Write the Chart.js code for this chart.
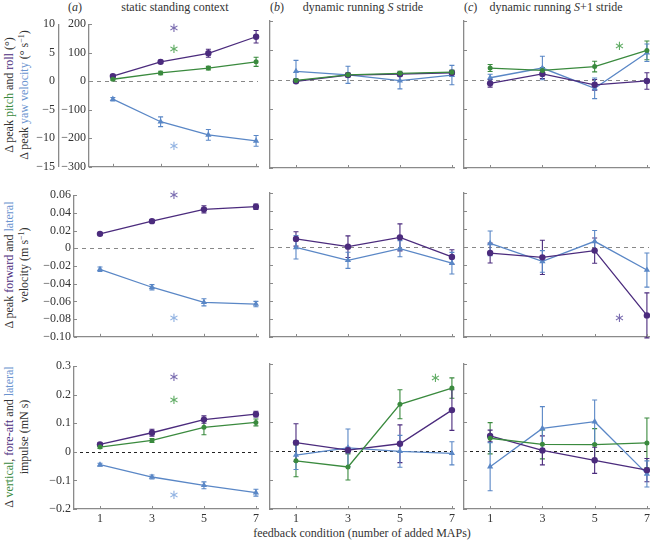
<!DOCTYPE html>
<html>
<head>
<meta charset="utf-8">
<script src="https://cdn.jsdelivr.net/npm/chart.js@4.4.0/dist/chart.umd.min.js"></script>
<style>
  body { margin: 0; width: 650px; height: 541px; overflow: hidden; background: #fff; position: relative;
         font-family: 'Liberation Serif', 'Times New Roman', serif; color: #333; }
  canvas { position: absolute; }
  .t { position: absolute; font-size: 12px; white-space: nowrap; line-height: 1; }
  .c { transform: translateX(-50%); }
  .yl { position: absolute; font-size: 12px; white-space: nowrap; line-height: 1;
        transform: translate(-50%, -50%) rotate(-90deg); }
  sup { font-size: 8px; vertical-align: 4px; line-height: 0; }
  .g { color: #3a8a3e; } .p { color: #4b2b7d; } .b { color: #6a93cf; }
</style>
</head>
<body>
<div class="t" style="left:68px;top:1px">(<i>a</i>)</div>
<div class="t c" style="left:175px;top:1px">static standing context</div>
<div class="t" style="left:270px;top:1px">(<i>b</i>)</div>
<div class="t c" style="left:363px;top:1px">dynamic running <i>S</i> stride</div>
<div class="t" style="left:464px;top:1px">(<i>c</i>)</div>
<div class="t c" style="left:556px;top:1px">dynamic running <i>S</i>+1 stride</div>

<div class="yl" style="left:9px;top:95px">Δ peak <span class="g">pitch</span> and <span class="p">roll</span> (°)</div>
<div class="yl" style="left:24px;top:95px">Δ peak <span class="b">yaw velocity</span> (° s<sup>−1</sup>)</div>
<div class="yl" style="left:9px;top:265px">Δ peak <span class="p">forward</span> and <span class="b">lateral</span></div>
<div class="yl" style="left:24px;top:265px">velocity (m s<sup>−1</sup>)</div>
<div class="yl" style="left:9px;top:437px">Δ <span class="g">vertical</span>, <span class="p">fore-aft</span> and <span class="b">lateral</span></div>
<div class="yl" style="left:24px;top:437px">impulse (mN s)</div>

<div class="t c" style="left:362px;top:527px">feedback condition (number of added MAPs)</div>

<script>
// feedback conditions (number of added MAPs)
const conditions = [1, 3, 5, 7];

// row 1: peak roll / pitch (deg), yaw velocity (deg/s)
const rollStatic = [0.9, 3.4, 4.9, 7.8];
const rollStaticErr = [0.2, 0.25, 0.7, 1.1];
const pitchStatic = [0.35, 1.45, 2.3, 3.4];
const pitchStaticErr = [0.15, 0.3, 0.3, 0.8];
const yawStatic = [-63, -142, -188, -209];
const yawStaticErr = [6, 17, 19, 19];

const rollS = [-0.25, 0.8, 0.95, 1.2];
const rollSErr = [0.25, 0.3, 0.3, 0.35];
const pitchS = [-0.1, 0.85, 1.1, 1.3];
const pitchSErr = [0.25, 0.3, 0.35, 0.35];
const yawS = [29, 17, -3, 16];
const yawSErr = [37, 29, 28, 33];

const rollS1 = [-0.6, 1.0, -0.85, -0.2];
const rollS1Err = [0.65, 0.8, 0.9, 1.4];
const pitchS1 = [2.0, 1.6, 2.25, 5.0];
const pitchS1Err = [0.6, 0.5, 0.9, 1.6];
const yawS1 = [7, 40, -29, 92];
const yawS1Err = [12, 40, 35, 30];

// row 2: peak forward / lateral velocity (m/s)
const fwdStatic = [0.0163, 0.0307, 0.044, 0.047];
const fwdStaticErr = [0.001, 0.0015, 0.004, 0.003];
const latStatic = [-0.0237, -0.044, -0.061, -0.063];
const latStaticErr = [0.0025, 0.003, 0.004, 0.003];

const fwdS = [0.009, 0.0004, 0.0107, -0.011];
const fwdSErr = [0.008, 0.012, 0.015, 0.008];
const latS = [-0.0004, -0.0148, -0.0019, -0.018];
const latSErr = [0.013, 0.009, 0.009, 0.012];

const fwdS1 = [-0.0067, -0.0115, -0.004, -0.076];
const fwdS1Err = [0.011, 0.019, 0.014, 0.025];
const latS1 = [0.004, -0.016, 0.0063, -0.0256];
const latS1Err = [0.0137, 0.012, 0.012, 0.019];

// row 3: vertical / fore-aft / lateral impulse (mN s)
const vertStatic = [0.017, 0.040, 0.086, 0.103];
const vertStaticErr = [0.005, 0.007, 0.026, 0.012];
const foreStatic = [0.026, 0.067, 0.113, 0.132];
const foreStaticErr = [0.005, 0.012, 0.013, 0.01];
const latImpStatic = [-0.045, -0.088, -0.117, -0.143];
const latImpStaticErr = [0.005, 0.007, 0.012, 0.012];

const vertS = [-0.034, -0.055, 0.161, 0.217];
const vertSErr = [0.055, 0.045, 0.05, 0.035];
const foreS = [0.029, 0.003, 0.025, 0.141];
const foreSErr = [0.065, 0.01, 0.065, 0.07];
const latImpS = [-0.014, 0.011, -0.001, -0.008];
const latImpSErr = [0.05, 0.065, 0.055, 0.04];

const vertS1 = [0.044, 0.023, 0.022, 0.028];
const vertS1Err = [0.054, 0.05, 0.055, 0.086];
const foreS1 = [0.052, 0.002, -0.032, -0.066];
const foreS1Err = [0.02, 0.05, 0.045, 0.04];
const latImpS1 = [-0.054, 0.078, 0.101, -0.079];
const latImpS1Err = [0.083, 0.075, 0.075, 0.045];

// significance asterisks: [condition, value, series]
const starsRot = [[3.56, 9.15, 'roll'], [3.56, 5.6, 'pitch'], [3.56, -229, 'yaw']];
const starsRotS1 = [[5.95, 5.6, 'pitch']];
const starsVel = [[3.85, 0.060, 'fwd'], [3.85, -0.080, 'lat']];
const starsVelS1 = [[5.95, -0.080, 'fwd']];
const starsImp = [[3.85, 0.26, 'fore'], [3.85, 0.18, 'vert'], [3.85, -0.154, 'latImp']];
const starsImpS = [[6.37, 0.25, 'vert']];

const PURPLE = '#4b2b7d', GREEN = '#3a8a3e', BLUE = '#5a87c6';
const style = {
  roll:   { color: PURPLE, star: '#7a6cb0', shape: 'circle', r: 3.2, axis: 'y2' },
  pitch:  { color: GREEN,  star: '#62ad66', shape: 'circle', r: 2.5, axis: 'y2' },
  yaw:    { color: BLUE,   star: '#92b3e2', shape: 'triangle', r: 3.6 },
  fwd:    { color: PURPLE, star: '#7a6cb0', shape: 'circle', r: 3.2 },
  lat:    { color: BLUE,   star: '#92b3e2', shape: 'triangle', r: 3.6 },
  fore:   { color: PURPLE, star: '#7a6cb0', shape: 'circle', r: 3.2 },
  vert:   { color: GREEN,  star: '#62ad66', shape: 'circle', r: 2.5 },
  latImp: { color: BLUE,   star: '#92b3e2', shape: 'triangle', r: 3.6 }
};

Chart.defaults.font.family = "'Liberation Serif', 'Times New Roman', serif";
Chart.defaults.font.size = 12;
Chart.defaults.color = '#333';

const AXIS = '#8a8a8a';

const fmt = (v, d) => Math.abs(v) < 1e-9 ? '0' : (v < 0 ? '\u2212' : '') + Math.abs(v).toFixed(d);

function series(key, vals, errs) {
  const s = style[key];
  return {
    label: key,
    data: conditions.map((c, i) => ({ x: c, y: vals[i] })),
    errors: errs,
    borderColor: s.color,
    backgroundColor: s.color,
    pointStyle: s.shape,
    pointRadius: s.r,
    pointBorderWidth: 0,
    borderWidth: 1.3,
    tension: 0,
    clip: false,
    yAxisID: s.axis || 'y'
  };
}

// error bars, zero line, inward ticks, asterisks
const extras = {
  id: 'extras',
  beforeDatasetsDraw(chart, args, opts) {
    const { ctx, chartArea, scales } = chart;
    const yz = Math.round(scales.y.getPixelForValue(0)) + 0.5;
    ctx.save();
    ctx.setLineDash(opts.zeroDash);
    ctx.strokeStyle = opts.zeroColor;
    ctx.lineWidth = 1;
    ctx.beginPath();
    ctx.moveTo(chartArea.left, yz);
    ctx.lineTo(chartArea.right, yz);
    ctx.stroke();
    ctx.setLineDash([]);
    chart.data.datasets.forEach((ds, i) => {
      const meta = chart.getDatasetMeta(i);
      ctx.strokeStyle = ds.borderColor;
      ctx.lineWidth = 1.1;
      ds.data.forEach((p, j) => {
        const e = ds.errors[j];
        const x = meta.xScale.getPixelForValue(p.x);
        const y1 = meta.yScale.getPixelForValue(p.y - e);
        const y2 = meta.yScale.getPixelForValue(p.y + e);
        ctx.beginPath();
        ctx.moveTo(x, y1); ctx.lineTo(x, y2);
        ctx.moveTo(x - 2.5, y1); ctx.lineTo(x + 2.5, y1);
        ctx.moveTo(x - 2.5, y2); ctx.lineTo(x + 2.5, y2);
        ctx.stroke();
      });
    });
    ctx.restore();
  },
  afterDraw(chart, args, opts) {
    const { ctx, chartArea, scales } = chart;
    ctx.save();
    ctx.strokeStyle = AXIS;
    ctx.lineWidth = 1;
    ctx.beginPath();
    scales.x.ticks.forEach(t => {
      const x = Math.round(scales.x.getPixelForValue(t.value)) + 0.5;
      ctx.moveTo(x, chartArea.bottom);
      ctx.lineTo(x, chartArea.bottom - 3);
    });
    scales.y.ticks.forEach(t => {
      const y = Math.round(scales.y.getPixelForValue(t.value)) + 0.5;
      ctx.moveTo(chartArea.left, y);
      ctx.lineTo(chartArea.left + 3, y);
    });
    ctx.stroke();
    ctx.font = "13px 'DejaVu Sans'";
    ctx.textAlign = 'center';
    ctx.textBaseline = 'middle';
    (opts.stars || []).forEach(([cx, v, key]) => {
      const s = style[key];
      const ys = scales[s.axis || 'y'];
      ctx.fillStyle = s.star;
      ctx.fillText('\u2217', scales.x.getPixelForValue(cx), ys.getPixelForValue(v));
    });
    ctx.restore();
  }
};

const rowGeom = [{ top: 21, bottom: 168 }, { top: 193, bottom: 337 }, { top: 364, bottom: 509 }];
const colGeom = [{ left: 74, right: 258 }, { left: 270, right: 454 }, { left: 464, right: 649 }];
const yRanges = [
  { min: -300, max: 200, step: 100, dec: 0 },
  { min: -0.10, max: 0.06, step: 0.02, dec: 2 },
  { min: -0.2, max: 0.3, step: 0.1, dec: 1 }
];

function makePanel(row, col, datasets, stars) {
  const g = rowGeom[row];
  const left = (row === 0 && col === 0) ? 89 : colGeom[col].left;
  const right = colGeom[col].right;
  const yw = col === 0 ? left : 4;
  const padTop = 8, padRight = 6;
  const xh = row === 2 ? 24 : 10;
  const w = yw + (right - left) + padRight;
  const h = padTop + (g.bottom - g.top) + xh;
  const cv = document.createElement('canvas');
  cv.width = w; cv.height = h;
  cv.style.left = (left - yw) + 'px';
  cv.style.top = (g.top - padTop) + 'px';
  cv.style.width = w + 'px'; cv.style.height = h + 'px';
  document.body.appendChild(cv);

  const yr = yRanges[row];
  const border = { display: true, color: AXIS, width: 1.3 };
  const dual = row === 0 && col === 0;
  const scales = {
    x: {
      type: 'linear', min: 0, max: 7.08,
      afterBuildTicks: s => { s.ticks = conditions.map(v => ({ value: v })); },
      ticks: { display: row === 2, padding: 3, autoSkip: false, maxRotation: 0, callback: v => String(v) },
      grid: { display: false, drawTicks: false },
      border,
      afterFit: s => { s.height = xh; }
    },
    y: {
      type: 'linear', position: 'left', weight: 0,
      min: yr.min, max: yr.max,
      ticks: { display: col === 0, stepSize: yr.step, padding: 3, callback: v => fmt(v, yr.dec) },
      grid: { display: false, drawTicks: false },
      border,
      afterFit: s => { s.width = dual ? 30 : yw; }
    }
  };
  if (row === 0) {
    // pitch / roll axis (degrees), aligned with the yaw-velocity axis
    scales.y2 = {
      type: 'linear', position: 'left', weight: 1,
      min: -15, max: 10,
      ticks: { display: dual, stepSize: 5, padding: 4, callback: v => fmt(v, 0) },
      grid: { display: false, drawTicks: false },
      border: { display: dual, color: AXIS, width: 1.3 },
      afterFit: s => { s.width = dual ? 59 : 0; }
    };
  }

  new Chart(cv, {
    type: 'line',
    data: { datasets },
    plugins: [extras],
    options: {
      responsive: false,
      animation: false,
      events: [],
      layout: { padding: { top: padTop, right: padRight, left: 0, bottom: 0 } },
      scales,
      plugins: {
        legend: { display: false },
        tooltip: { enabled: false },
        extras: {
          zeroDash: row === 2 ? [3, 3] : [4, 4],
          zeroColor: row === 2 ? '#222' : '#888',
          stars
        }
      }
    }
  });
}

makePanel(0, 0, [series('pitch', pitchStatic, pitchStaticErr), series('roll', rollStatic, rollStaticErr), series('yaw', yawStatic, yawStaticErr)], starsRot);
makePanel(0, 1, [series('pitch', pitchS, pitchSErr), series('roll', rollS, rollSErr), series('yaw', yawS, yawSErr)], []);
makePanel(0, 2, [series('pitch', pitchS1, pitchS1Err), series('roll', rollS1, rollS1Err), series('yaw', yawS1, yawS1Err)], starsRotS1);

makePanel(1, 0, [series('fwd', fwdStatic, fwdStaticErr), series('lat', latStatic, latStaticErr)], starsVel);
makePanel(1, 1, [series('fwd', fwdS, fwdSErr), series('lat', latS, latSErr)], []);
makePanel(1, 2, [series('fwd', fwdS1, fwdS1Err), series('lat', latS1, latS1Err)], starsVelS1);

makePanel(2, 0, [series('vert', vertStatic, vertStaticErr), series('fore', foreStatic, foreStaticErr), series('latImp', latImpStatic, latImpStaticErr)], starsImp);
makePanel(2, 1, [series('vert', vertS, vertSErr), series('fore', foreS, foreSErr), series('latImp', latImpS, latImpSErr)], starsImpS);
makePanel(2, 2, [series('vert', vertS1, vertS1Err), series('fore', foreS1, foreS1Err), series('latImp', latImpS1, latImpS1Err)], []);
</script>
</body>
</html>
